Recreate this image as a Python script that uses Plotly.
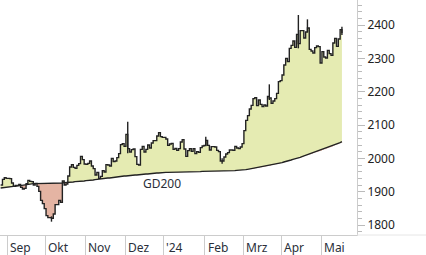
import numpy as np
import pandas as pd
import plotly.graph_objects as go

# ---------------- data ----------------
dates = pd.bdate_range("2023-08-28", "2024-05-16")

close = [
    1920, 1937, 1942, 1940, 1940, 1939, 1926, 1916, 1919, 1919,
    1922, 1913, 1908, 1910, 1924, 1934, 1931, 1930, 1920, 1925,
    1916, 1901, 1874, 1864, 1849, 1828, 1822, 1822, 1820, 1833,
    1861, 1861, 1874, 1868, 1932, 1920, 1923, 1947, 1974, 1981,
    1973, 1970, 1979, 1984, 2006, 1996, 1983, 1982, 1985, 1992,
    1977, 1969, 1950, 1958, 1940, 1946, 1963, 1959, 1981, 1980,
    1977, 2000, 1990, 1992, 2002, 2014, 2041, 2044, 2036, 2072,
    2029, 2019, 2026, 2028, 2005, 1982, 1980, 2027, 2036, 2019,
    2027, 2040, 2031, 2046, 2053, 2053, 2067, 2077, 2065, 2063,
    2063, 2058, 2039, 2043, 2045, 2027, 2030, 2024, 2029, 2049,
    2056, 2028, 2006, 2023, 2029, 2021, 2029, 2014, 2020, 2018,
    2032, 2037, 2039, 2054, 2039, 2025, 2035, 2035, 2034, 2024,
    2020, 1992, 1992, 2004, 2013, 2017, 2025, 2025, 2024, 2036,
    2031, 2029, 2034, 2044, 2083, 2114, 2128, 2148, 2159, 2179,
    2182, 2158, 2175, 2162, 2155, 2160, 2157, 2186, 2181, 2165,
    2172, 2179, 2195, 2230, 2233, 2250, 2280, 2300, 2290, 2330,
    2339, 2352, 2333, 2372, 2344, 2383, 2383, 2361, 2379, 2391,
    2327, 2322, 2316, 2332, 2337, 2335, 2286, 2320, 2304, 2301,
    2324, 2314, 2309, 2346, 2360, 2336, 2358, 2386, 2376,
]

gd200 = [
    1911, 1912, 1912, 1913, 1913, 1914, 1915, 1916, 1916, 1917,
    1918, 1918, 1919, 1920, 1921, 1921, 1922, 1923, 1924, 1924,
    1924, 1924, 1924, 1925, 1925, 1925, 1925, 1925, 1925, 1925,
    1926, 1926, 1926, 1926, 1926, 1927, 1927, 1928, 1928, 1929,
    1929, 1930, 1930, 1931, 1931, 1932, 1932, 1933, 1933, 1934,
    1935, 1935, 1936, 1937, 1937, 1938, 1939, 1939, 1940, 1941,
    1941, 1942, 1943, 1943, 1944, 1945, 1946, 1946, 1947, 1947,
    1948, 1948, 1949, 1949, 1950, 1950, 1951, 1951, 1952, 1952,
    1953, 1953, 1954, 1955, 1955, 1956, 1956, 1956, 1957, 1957,
    1957, 1958, 1958, 1958, 1958, 1958, 1958, 1959, 1959, 1959,
    1959, 1959, 1959, 1960, 1960, 1960, 1960, 1960, 1960, 1960,
    1960, 1961, 1961, 1961, 1961, 1961, 1961, 1961, 1961, 1961,
    1961, 1962, 1962, 1962, 1962, 1962, 1963, 1963, 1963, 1963,
    1964, 1964, 1965, 1965, 1966, 1966, 1967, 1968, 1969, 1969,
    1970, 1971, 1972, 1973, 1974, 1975, 1976, 1977, 1978, 1980,
    1981, 1982, 1983, 1984, 1986, 1987, 1989, 1990, 1992, 1993,
    1995, 1997, 1998, 2000, 2001, 2003, 2005, 2007, 2009, 2010,
    2012, 2014, 2016, 2018, 2019, 2021, 2023, 2025, 2027, 2029,
    2031, 2033, 2035, 2038, 2040, 2042, 2045, 2047, 2050,
]

# visible intraday extremes (day index, low, high)
wick_day = [28, 70, 113, 122, 148, 164, 169, 188]
wick_low = [1810, 2015, 2036, 1984, 2175, 2330, 2380, 2370]
wick_high = [1826, 2110, 2065, 2000, 2222, 2430, 2417, 2395]

month_labels = ["Sep", "Okt", "Nov", "Dez", "'24", "Feb", "Mrz", "Apr", "Mai"]
month_starts = ["2023-09-01", "2023-10-01", "2023-11-01", "2023-12-01", "2024-01-01",
                "2024-02-01", "2024-03-01", "2024-04-01", "2024-05-01"]
y_ticks = [1800, 1900, 2000, 2100, 2200, 2300, 2400]

assert len(close) == len(dates) == len(gd200)

# ---------------- derived ----------------
x = np.arange(len(dates))
close_a = np.array(close, dtype=float)
ma_a = np.array(gd200, dtype=float)
upper = np.maximum(close_a, ma_a)
lower = np.minimum(close_a, ma_a)

# month boundaries (between last day of previous month and first day of month)
bounds = [int(np.searchsorted(dates.values, np.datetime64(m))) - 0.5 for m in month_starts]

wx, wy = [], []
for d, lo, hi in zip(wick_day, wick_low, wick_high):
    wx += [d, d, None]
    wy += [lo, hi, None]

GREEN = "#e5ebb2"
RED = "#e4b4a3"
LINE = "#222222"
FONT = "Noto Sans"

fig = go.Figure()
# green fill
fig.add_trace(go.Scatter(x=x, y=ma_a, mode="lines", line=dict(width=0), hoverinfo="skip"))
fig.add_trace(go.Scatter(x=x, y=upper, mode="lines", line=dict(width=0, shape="hv"),
                         fill="tonexty", fillcolor=GREEN, hoverinfo="skip"))
# red fill
fig.add_trace(go.Scatter(x=x, y=ma_a, mode="lines", line=dict(width=0), hoverinfo="skip"))
fig.add_trace(go.Scatter(x=x, y=lower, mode="lines", line=dict(width=0, shape="hv"),
                         fill="tonexty", fillcolor=RED, hoverinfo="skip"))
# GD200 line
fig.add_trace(go.Scatter(x=x, y=ma_a, mode="lines", line=dict(color=LINE, width=1.4)))
# price
fig.add_trace(go.Scatter(x=x, y=close_a, mode="lines", line=dict(color=LINE, width=1.4, shape="hv")))
fig.add_trace(go.Scatter(x=wx, y=wy, mode="lines", line=dict(color=LINE, width=1.4)))

annotations = [
    dict(x=b, y=0, xref="x", yref="paper", text=t, showarrow=False,
         xanchor="left", yanchor="top", xshift=1, yshift=-2,
         font=dict(family=FONT, size=12, color="#2a2f3a"))
    for b, t in zip(bounds, month_labels)
]
annotations.append(dict(x=77.3, y=1926, xref="x", yref="y", text="GD200", showarrow=False,
                        xanchor="left", yanchor="middle",
                        font=dict(family=FONT, size=12, color="#2a2f3a")))

fig.update_layout(
    width=426, height=255,
    margin=dict(l=0, r=69, t=0, b=20),
    paper_bgcolor="white", plot_bgcolor="white",
    showlegend=False,
    annotations=annotations,
    shapes=[dict(type="line", xref="paper", yref="paper", x0=1, x1=1.2, y0=0, y1=0,
                 line=dict(color="#e6e6e6", width=1))],
    xaxis=dict(range=[-0.36, 196.3], showgrid=False, zeroline=False,
               showline=True, linecolor="#cccccc", linewidth=1,
               tickvals=bounds, ticks="outside", ticklen=20, tickcolor="#cccccc",
               showticklabels=False),
    yaxis=dict(range=[1770, 2475], side="right", showgrid=False, zeroline=False,
               showline=True, linecolor="#cccccc", linewidth=1,
               tickvals=y_ticks, ticks="outside", ticklen=7, tickcolor="#bbbbbb",
               tickfont=dict(family=FONT, size=12, color="#222222"),
               minor=dict(dtick=20, ticks="outside", ticklen=4, tickcolor="#bbbbbb")),
)

fig.write_html("out.html")
